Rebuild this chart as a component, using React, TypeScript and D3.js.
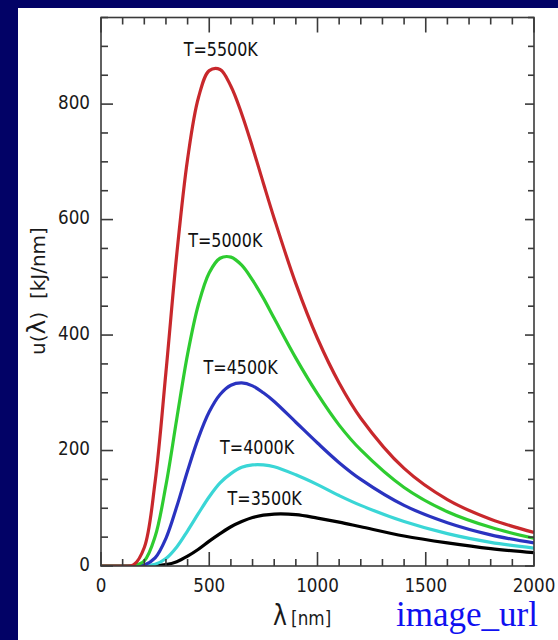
import React from "react";
import * as d3 from "d3";

// wavelengths in nm, shared by every series
const lambdas = [0, 100, 150, 200, 250, 300, 350, 400, 450, 500, 550, 600, 650, 700, 750, 800, 900, 1000, 1100, 1200, 1400, 1600, 1800, 2000];

// u(lambda) in kJ/nm
const u5500 = [0, 0, 1.8, 32, 146, 336, 540, 705, 811, 858, 860, 831, 783, 725, 663, 602, 489, 394, 317, 256, 169, 115, 81, 58];
const u5000 = [0, 0, 0.3, 9, 51, 140, 255, 367, 453, 508, 533, 535, 521, 495, 464, 429, 360, 298, 244, 201, 136, 94, 67, 48];
const u4500 = [0, 0, 0, 1.8, 14, 48, 103, 165, 222, 267, 297, 313, 317, 312, 300, 285, 249, 213, 179, 150, 105, 75, 54, 40];
const u4000 = [0, 0, 0, 0.2, 2.9, 13, 33, 61, 91, 120, 144, 160, 171, 175, 175, 172, 158, 141, 122, 105, 77, 56, 41, 31];
const u3500 = [0, 0, 0, 0, 0.4, 2.3, 7.5, 17, 29, 43, 56, 68, 77, 84, 88, 90, 89, 83, 76, 68, 52, 40, 30, 23];

const temps = ["T=3500K", "T=4000K", "T=4500K", "T=5000K", "T=5500K"];
const seriesValues = [u3500, u4000, u4500, u5000, u5500];
const colors = ["#000000", "#3ad6d6", "#2a33c0", "#2ecc30", "#c8282c"];
// where each label sits, in data units (lambda, u)
const labelLambda = [756, 721, 645, 574, 553];
const labelU = [106, 194, 332, 552, 883];

const xTicks = [0, 500, 1000, 1500, 2000];
const yTicks = [0, 200, 400, 600, 800];

const left = 101, right = 534, top = 17.5, bottom = 566;
const font = "DejaVu Sans, Verdana, sans-serif";
const squeeze = 0.84;

export default function App() {
  const x = d3.scaleLinear().domain([0, 2000]).range([left, right]);
  const y = d3.scaleLinear().domain([0, 950]).range([bottom, top]);

  const line = d3
    .line<number>()
    .x((d, i) => x(lambdas[i]))
    .y(d => Math.min(bottom, y(d)))
    .curve(d3.curveCatmullRom.alpha(0.5));

  const xMinor = d3.range(0, 2001, 100);
  const yMinor = d3.range(0, 951, 50);
  const axisColor = "#3a3a3a";

  return (
    <svg width={558} height={640} style={{ position: "absolute", left: 0, top: 0 }}>
      <rect width={558} height={640} fill="#020266" />
      <rect x={18} y={8} width={540} height={632} fill="#ffffff" />

      <clipPath id="plot">
        <rect x={left} y={top} width={right - left} height={bottom - top} />
      </clipPath>
      <g clipPath="url(#plot)">
        {seriesValues.map((vals, i) => (
          <path key={temps[i]} d={line(vals) || ""} fill="none" stroke={colors[i]} strokeWidth={3.2} strokeLinejoin="round" />
        ))}
      </g>

      <rect x={left} y={top} width={right - left} height={bottom - top} fill="none" stroke={axisColor} strokeWidth={1.6} />

      {xMinor.map(v => {
        const major = v % 500 === 0;
        return (
          <g key={"x" + v} stroke={axisColor} strokeWidth={1.6}>
            <line x1={x(v)} x2={x(v)} y1={bottom} y2={bottom - (major ? 14 : 7)} />
            <line x1={x(v)} x2={x(v)} y1={top} y2={top + (major ? 15 : 7)} />
          </g>
        );
      })}
      {yMinor.map(v => {
        const major = v % 200 === 0;
        return (
          <g key={"y" + v} stroke={axisColor} strokeWidth={1.6}>
            <line x1={left} x2={left + (major ? 12 : 7)} y1={y(v)} y2={y(v)} />
            <line x1={right} x2={right - (major ? 9 : 6)} y1={y(v)} y2={y(v)} />
          </g>
        );
      })}

      {xTicks.map(v => (
        <text key={"xl" + v} transform={`translate(${x(v)},592) scale(${squeeze},1)`} textAnchor="middle" fontFamily={font} fontSize={20} fill="#1a1a1a">
          {v}
        </text>
      ))}
      {yTicks.map(v => (
        <text key={"yl" + v} transform={`translate(90,${y(v) + 4.5}) scale(${squeeze},1)`} textAnchor="end" fontFamily={font} fontSize={20} fill="#1a1a1a">
          {v}
        </text>
      ))}

      {temps.map((t, i) => (
        <text key={"lab" + t} transform={`translate(${x(labelLambda[i])},${y(labelU[i])}) scale(${squeeze},1)`} textAnchor="middle" fontFamily={font} fontSize={19} fill="#111">
          {t}
        </text>
      ))}

      <text transform={`translate(45,291) rotate(-90)`} textAnchor="middle" fontFamily={font} fontSize={20} fill="#1a1a1a" xmlSpace="preserve">
        <tspan>u(</tspan>
        <tspan fontSize={25}>λ</tspan>
        <tspan>)  [kJ/nm]</tspan>
      </text>

      <text transform={`translate(273,625) scale(${squeeze},1)`} fontFamily={font} fill="#1a1a1a">
        <tspan fontSize={28}>λ</tspan>
        <tspan fontSize={20} dx={5}>[nm]</tspan>
      </text>

      <text x={396} y={626} fontFamily="Liberation Serif, Times New Roman, serif" fontSize={35} fill="#1010f0">
        image_url
      </text>
    </svg>
  );
}
